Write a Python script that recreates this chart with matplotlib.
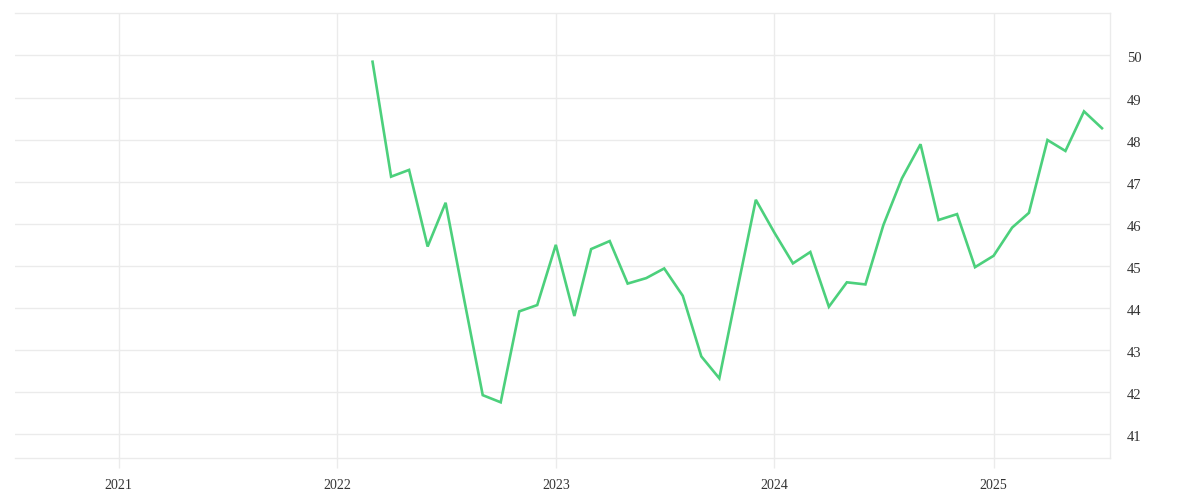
import numpy as np
import pandas as pd
from matplotlib import pyplot as plt
import matplotlib.dates as mdates
import matplotlib.transforms as mtransforms

# monthly values, Mar 2022 .. Jul 2025
months = pd.date_range("2022-03-01", "2025-07-01", freq="MS")
values = [49.85, 47.12, 47.28, 45.46, 46.50, 44.20, 41.93, 41.76, 43.92, 44.07,
          45.50, 43.81, 45.40, 45.59, 44.58, 44.71, 44.94, 44.29, 42.85, 42.33,
          44.50, 46.57, 45.79, 45.06, 45.33, 44.03, 44.61, 44.56, 45.97, 47.08,
          47.89, 46.09, 46.23, 44.97, 45.24, 45.91, 46.26, 47.99, 47.73, 48.67,
          48.27]
year_ticks = pd.to_datetime(["2021-01-01", "2022-01-01", "2023-01-01", "2024-01-01", "2025-01-01"])
y_ticks = list(range(41, 51))

grid_c = "#ebebeb"
plt.rcParams['font.family'] = ['Liberation Serif', 'DejaVu Serif']

fig = plt.figure(figsize=(12, 5), dpi=100)
ax = fig.add_axes([0.0125, 0.0834, 0.9128, 0.89])

ax.plot(months, values, color="#4cd07c", lw=1.9, solid_joinstyle="miter", zorder=3)

ax.set_xlim(pd.Timestamp("2020-07-12"), pd.Timestamp("2025-07-15"))
ax.set_ylim(40.43, 51.0)
ax.set_xticks(year_ticks)
ax.xaxis.set_major_formatter(mdates.DateFormatter("%Y"))
ax.set_yticks(y_ticks)

ax.yaxis.tick_right()
ax.grid(True, color=grid_c, lw=1)
ax.set_axisbelow(True)
ax.spines["left"].set_visible(False)
for side in ["top", "bottom", "right"]:
    ax.spines[side].set_color(grid_c)
    ax.spines[side].set_linewidth(1)

ax.tick_params(axis="x", length=7.5, color=grid_c, width=1, pad=7.5, labelsize=10, labelcolor="#333333")
ax.tick_params(axis="y", length=0, pad=12, labelsize=10.5, labelcolor="#333333")
shift = mtransforms.ScaledTranslation(0, -2 / 100, fig.dpi_scale_trans)
for lab in ax.get_yticklabels():
    lab.set_horizontalalignment("left")
    lab.set_transform(lab.get_transform() + shift)

fig.savefig("out.png")
